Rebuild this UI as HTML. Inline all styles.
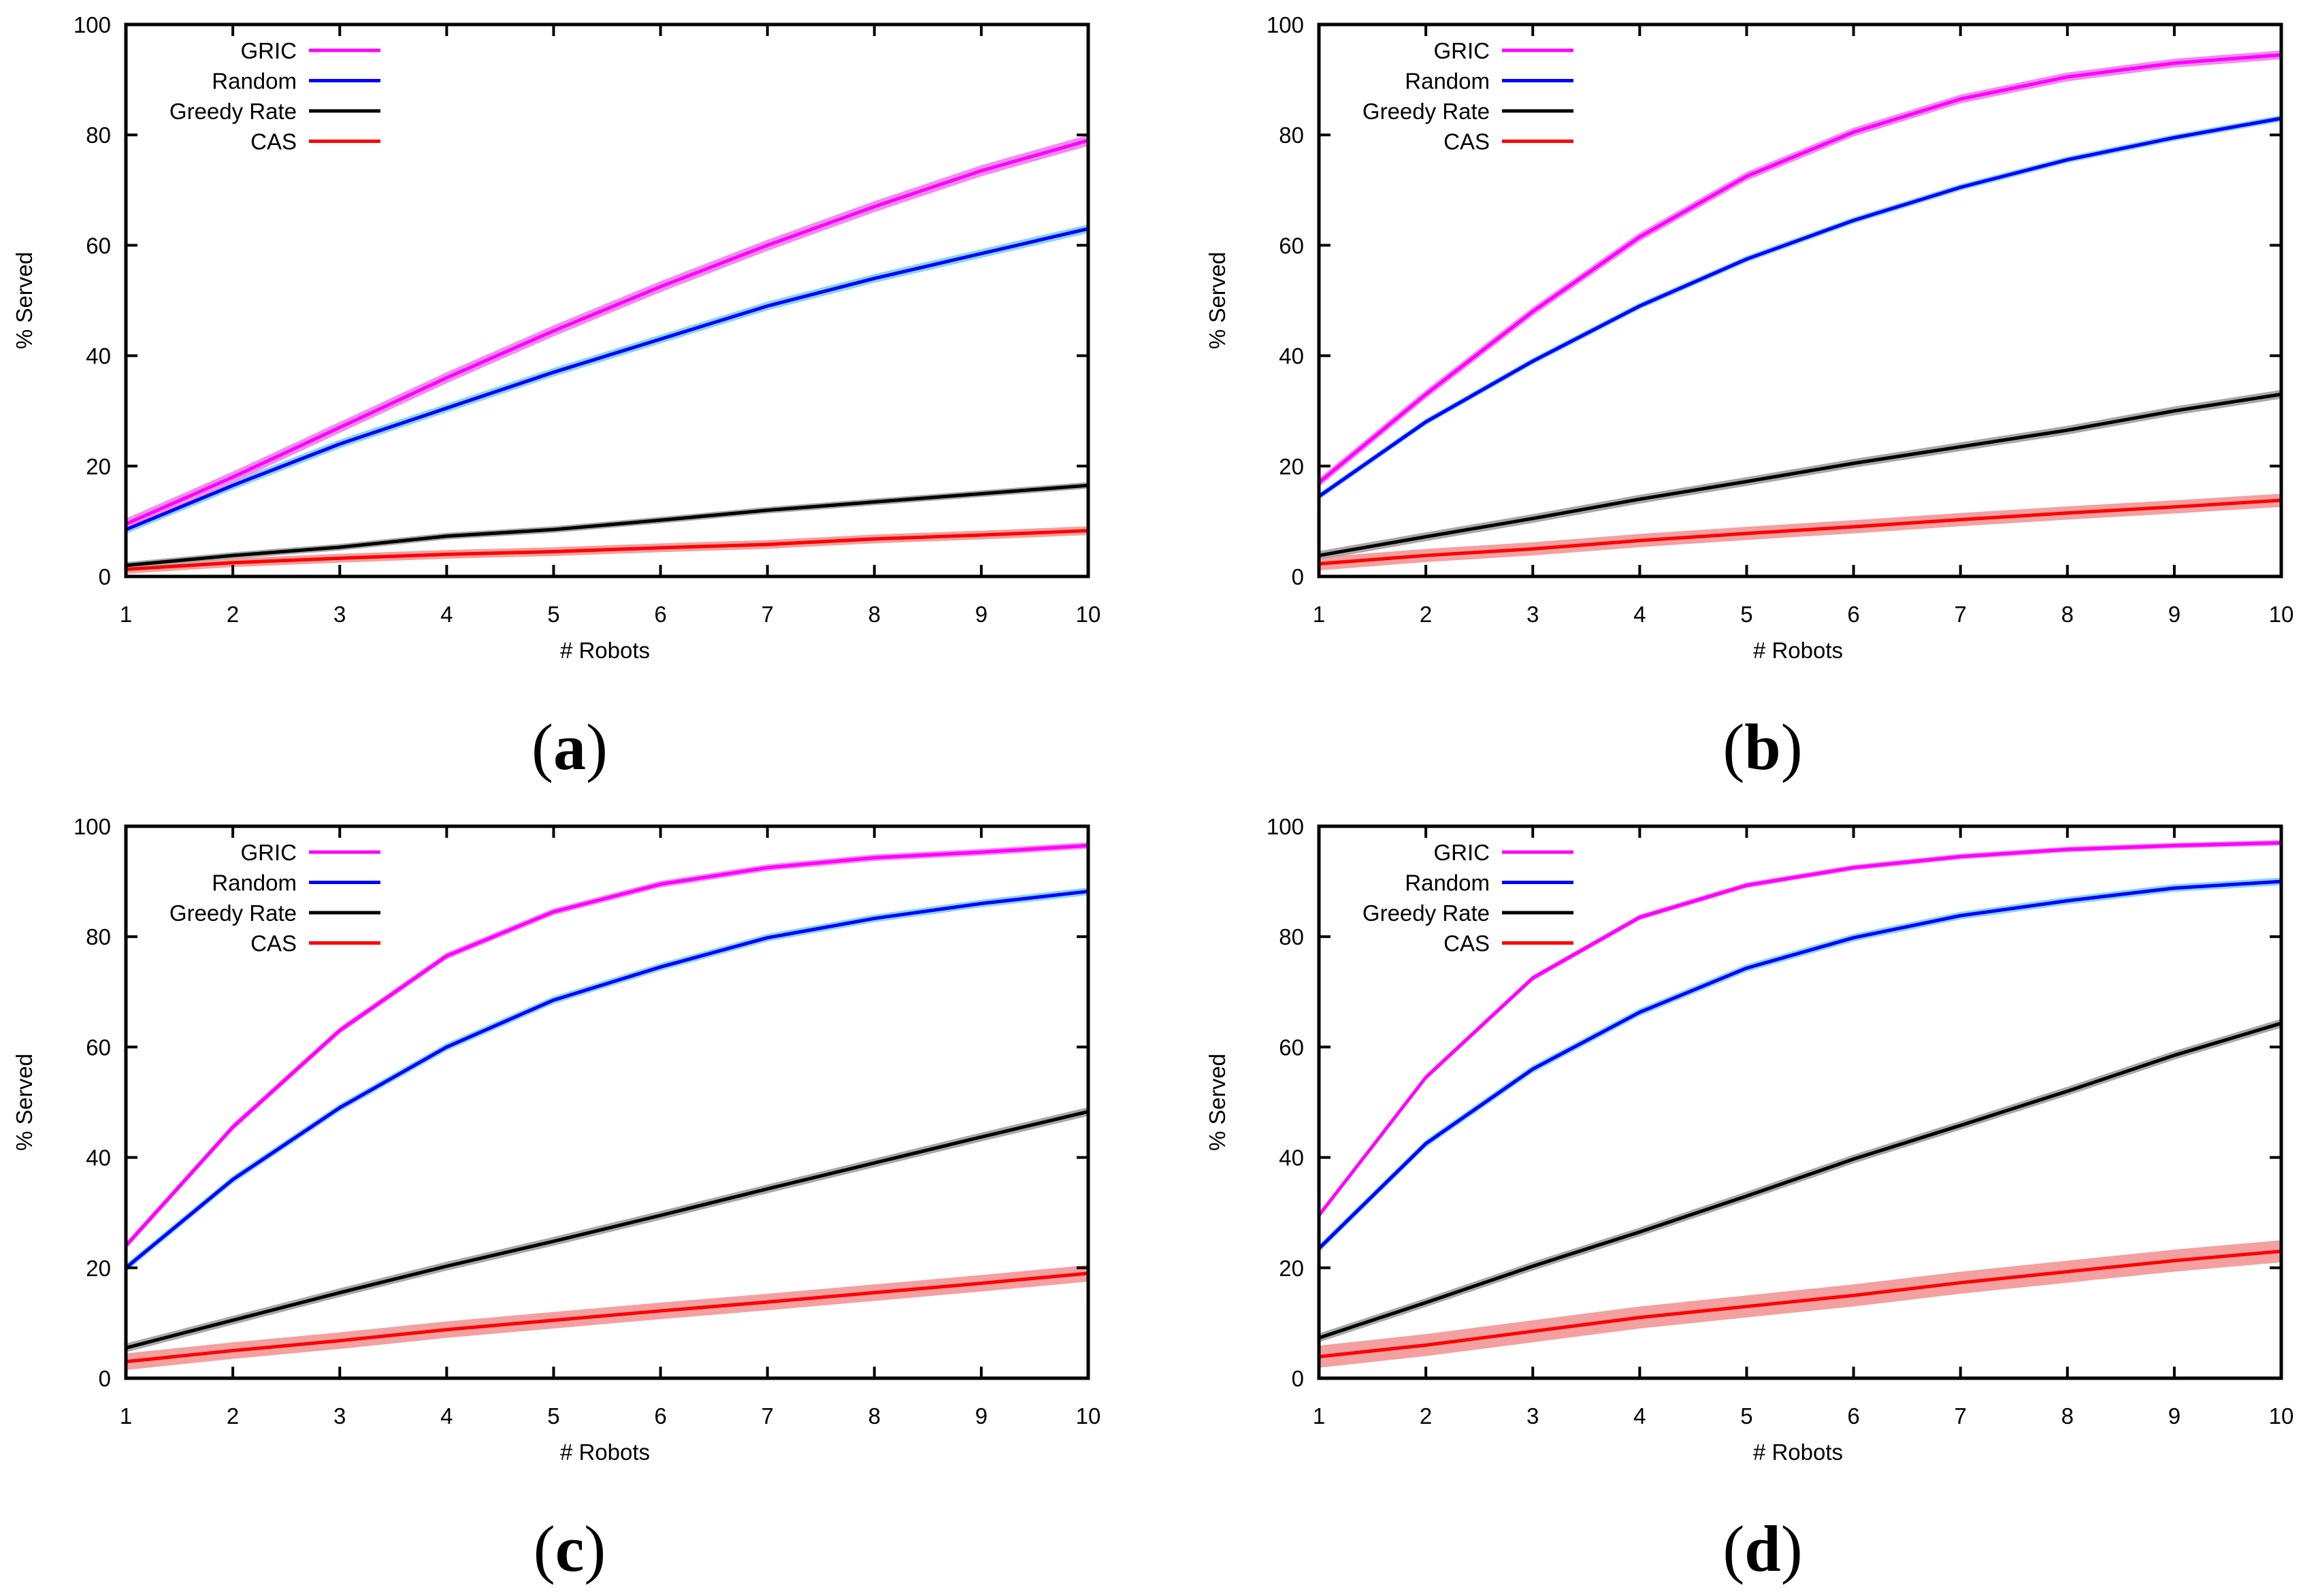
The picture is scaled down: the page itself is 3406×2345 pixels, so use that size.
<!DOCTYPE html>
<html><head><meta charset="utf-8"><style>
html,body{margin:0;padding:0;background:#fff;}
svg{display:block;font-family:"Liberation Sans","DejaVu Sans",sans-serif;}
</style></head><body>
<svg id="fig" width="3406" height="2345" viewBox="0 0 3406 2345" xmlns="http://www.w3.org/2000/svg"></svg>
<script>
const xCategories = [1,2,3,4,5,6,7,8,9,10];
const yTicks = [0,20,40,60,80,100];
const seriesNames = ["GRIC","Random","Greedy Rate","CAS"];
const panelLabels = ["a","b","c","d"];
// panel a
const aGric   = [9.5,18,27,36,44.5,52.5,60,67,73.5,79];
const aRandom = [8.5,16.5,24,30.5,37,43,49,54,58.5,63];
const aGreedy = [2,3.8,5.3,7.3,8.5,10.2,12,13.5,15,16.5];
const aCas    = [1.3,2.5,3.3,4,4.5,5.2,5.8,6.8,7.5,8.3];
// panel b
const bGric   = [17,33,48,61.5,72.5,80.5,86.5,90.5,93,94.5];
const bRandom = [14.5,28,39,49,57.5,64.5,70.5,75.5,79.5,83];
const bGreedy = [3.8,7.2,10.5,14,17.2,20.5,23.5,26.5,30,33];
const bCas    = [2.3,3.8,5,6.5,7.8,9,10.3,11.5,12.6,13.8];
// panel c
const cGric   = [24,45.5,63,76.5,84.5,89.5,92.5,94.3,95.3,96.5];
const cRandom = [20,36,49,60,68.5,74.5,79.8,83.3,86,88.2];
const cGreedy = [5.5,10.5,15.5,20.3,24.8,29.5,34.3,39,43.7,48.3];
const cCas    = [3,5,6.8,8.8,10.5,12.2,13.8,15.5,17.2,19];
// panel d
const dGric   = [29.5,54.5,72.5,83.5,89.3,92.5,94.5,95.8,96.5,97];
const dRandom = [23.5,42.5,56,66.3,74.3,79.8,83.8,86.5,88.8,90];
const dGreedy = [7.3,13.7,20.3,26.5,33,39.7,45.8,52,58.5,64.3];
const dCas    = [3.9,6,8.5,11,13,15,17.3,19.3,21.3,23];
// band half-widths (error) per panel: [GRIC, Random, Greedy, CAS]
const aErr = [1,0.8,0.6,0.8];
const bErr = [0.8,0.6,0.8,1.2];
const cErr = [0.6,0.7,0.8,1.5];
const dErr = [0.5,0.7,0.8,2];

const NS="http://www.w3.org/2000/svg";
const svg=document.getElementById('fig');
function mk(tag,attrs,parent){const e=document.createElementNS(NS,tag);for(const k in attrs)e.setAttribute(k,attrs[k]);(parent||svg).appendChild(e);return e;}
const lineColors=["#ff00ff","#0000ff","#000000","#ff0000"];
const bandColors=["#f08cf0","#8ad4f0","#a8a8a8","#f4a0a0"];
const panels=[
 {x0:185,y0:36,data:[aGric,aRandom,aGreedy,aCas],err:aErr},
 {x0:1938,y0:36,data:[bGric,bRandom,bGreedy,bCas],err:bErr},
 {x0:185,y0:1214,data:[cGric,cRandom,cGreedy,cCas],err:cErr},
 {x0:1938,y0:1214,data:[dGric,dRandom,dGreedy,dCas],err:dErr}
];
const W=1414,H=811;
panels.forEach((p,pi)=>{
  const g=mk('g',{});
  
  
  const sx=v=>p.x0+(v-1)/9*W;
  const sy=v=>p.y0+H-v/100*H;
  // series
  for(let s=3;s>=0;s--){
    const d=p.data[s], e=p.err[s];
    let up=d.map((v,i)=>sx(xCategories[i])+','+sy(v+e));
    let lo=d.map((v,i)=>sx(xCategories[i])+','+sy(Math.max(0,v-e))).reverse();
    const band=mk('polygon',{points:up.concat(lo).join(' '),fill:bandColors[s],stroke:'none'},g);
    
    
  }
  for(let s=3;s>=0;s--){
    const d=p.data[s];
    const ln=mk('polyline',{points:d.map((v,i)=>sx(xCategories[i])+','+sy(v)).join(' '),fill:'none',stroke:lineColors[s],'stroke-width':5,'stroke-linejoin':'round'},g);
    
    
  }
  // frame
  const fr=mk('rect',{x:p.x0,y:p.y0,width:W,height:H,fill:'none',stroke:'#000','stroke-width':5},g);
  
  
  // ticks
  xCategories.forEach(v=>{
    const x=sx(v);
    mk('line',{x1:x,y1:p.y0+H,x2:x,y2:p.y0+H-17,stroke:'#000','stroke-width':4},g);
    mk('line',{x1:x,y1:p.y0,x2:x,y2:p.y0+17,stroke:'#000','stroke-width':4},g);
    const t=mk('text',{x:x,y:p.y0+H+67,'font-size':33,'text-anchor':'middle',fill:'#000'},g);
    t.textContent=v;
    
    
  });
  yTicks.forEach(v=>{
    const y=sy(v);
    mk('line',{x1:p.x0,y1:y,x2:p.x0+17,y2:y,stroke:'#000','stroke-width':4},g);
    mk('line',{x1:p.x0+W,y1:y,x2:p.x0+W-17,y2:y,stroke:'#000','stroke-width':4},g);
    const t=mk('text',{x:p.x0-22,y:y+12,'font-size':33,'text-anchor':'end',fill:'#000'},g);
    t.textContent=v;
    
    
  });
  // axis titles
  const xt=mk('text',{x:p.x0+W/2-3,y:p.y0+H+120,'font-size':33,'text-anchor':'middle',fill:'#000'},g);
  xt.textContent='# Robots';
  
  
  const yx=p.x0-138, yy=p.y0+H/2;
  const yt=mk('text',{x:yx,y:yy,'font-size':33,'text-anchor':'middle',fill:'#000',transform:'rotate(-90 '+yx+' '+yy+')'},g);
  yt.textContent='% Served';
  
  
  // legend
  seriesNames.forEach((n,s)=>{
    const ly=p.y0+38+s*44.5;
    const lt=mk('text',{x:p.x0+251,y:ly+12,'font-size':33,'text-anchor':'end',fill:'#000'},g);
    lt.textContent=n;
    
    
    const ll=mk('line',{x1:p.x0+269,y1:ly,x2:p.x0+374,y2:ly,stroke:lineColors[s],'stroke-width':5},g);
    
    
  });
  // panel label
  const pl=mk('text',{x:p.x0+W/2-55,y:p.y0+H+283,'font-size':96,'text-anchor':'middle',fill:'#000','font-family':'"Liberation Serif",serif'},g);
  pl.innerHTML='(<tspan font-weight="bold">'+panelLabels[pi]+'</tspan>)';
  
  
});
</script>
</body></html>
